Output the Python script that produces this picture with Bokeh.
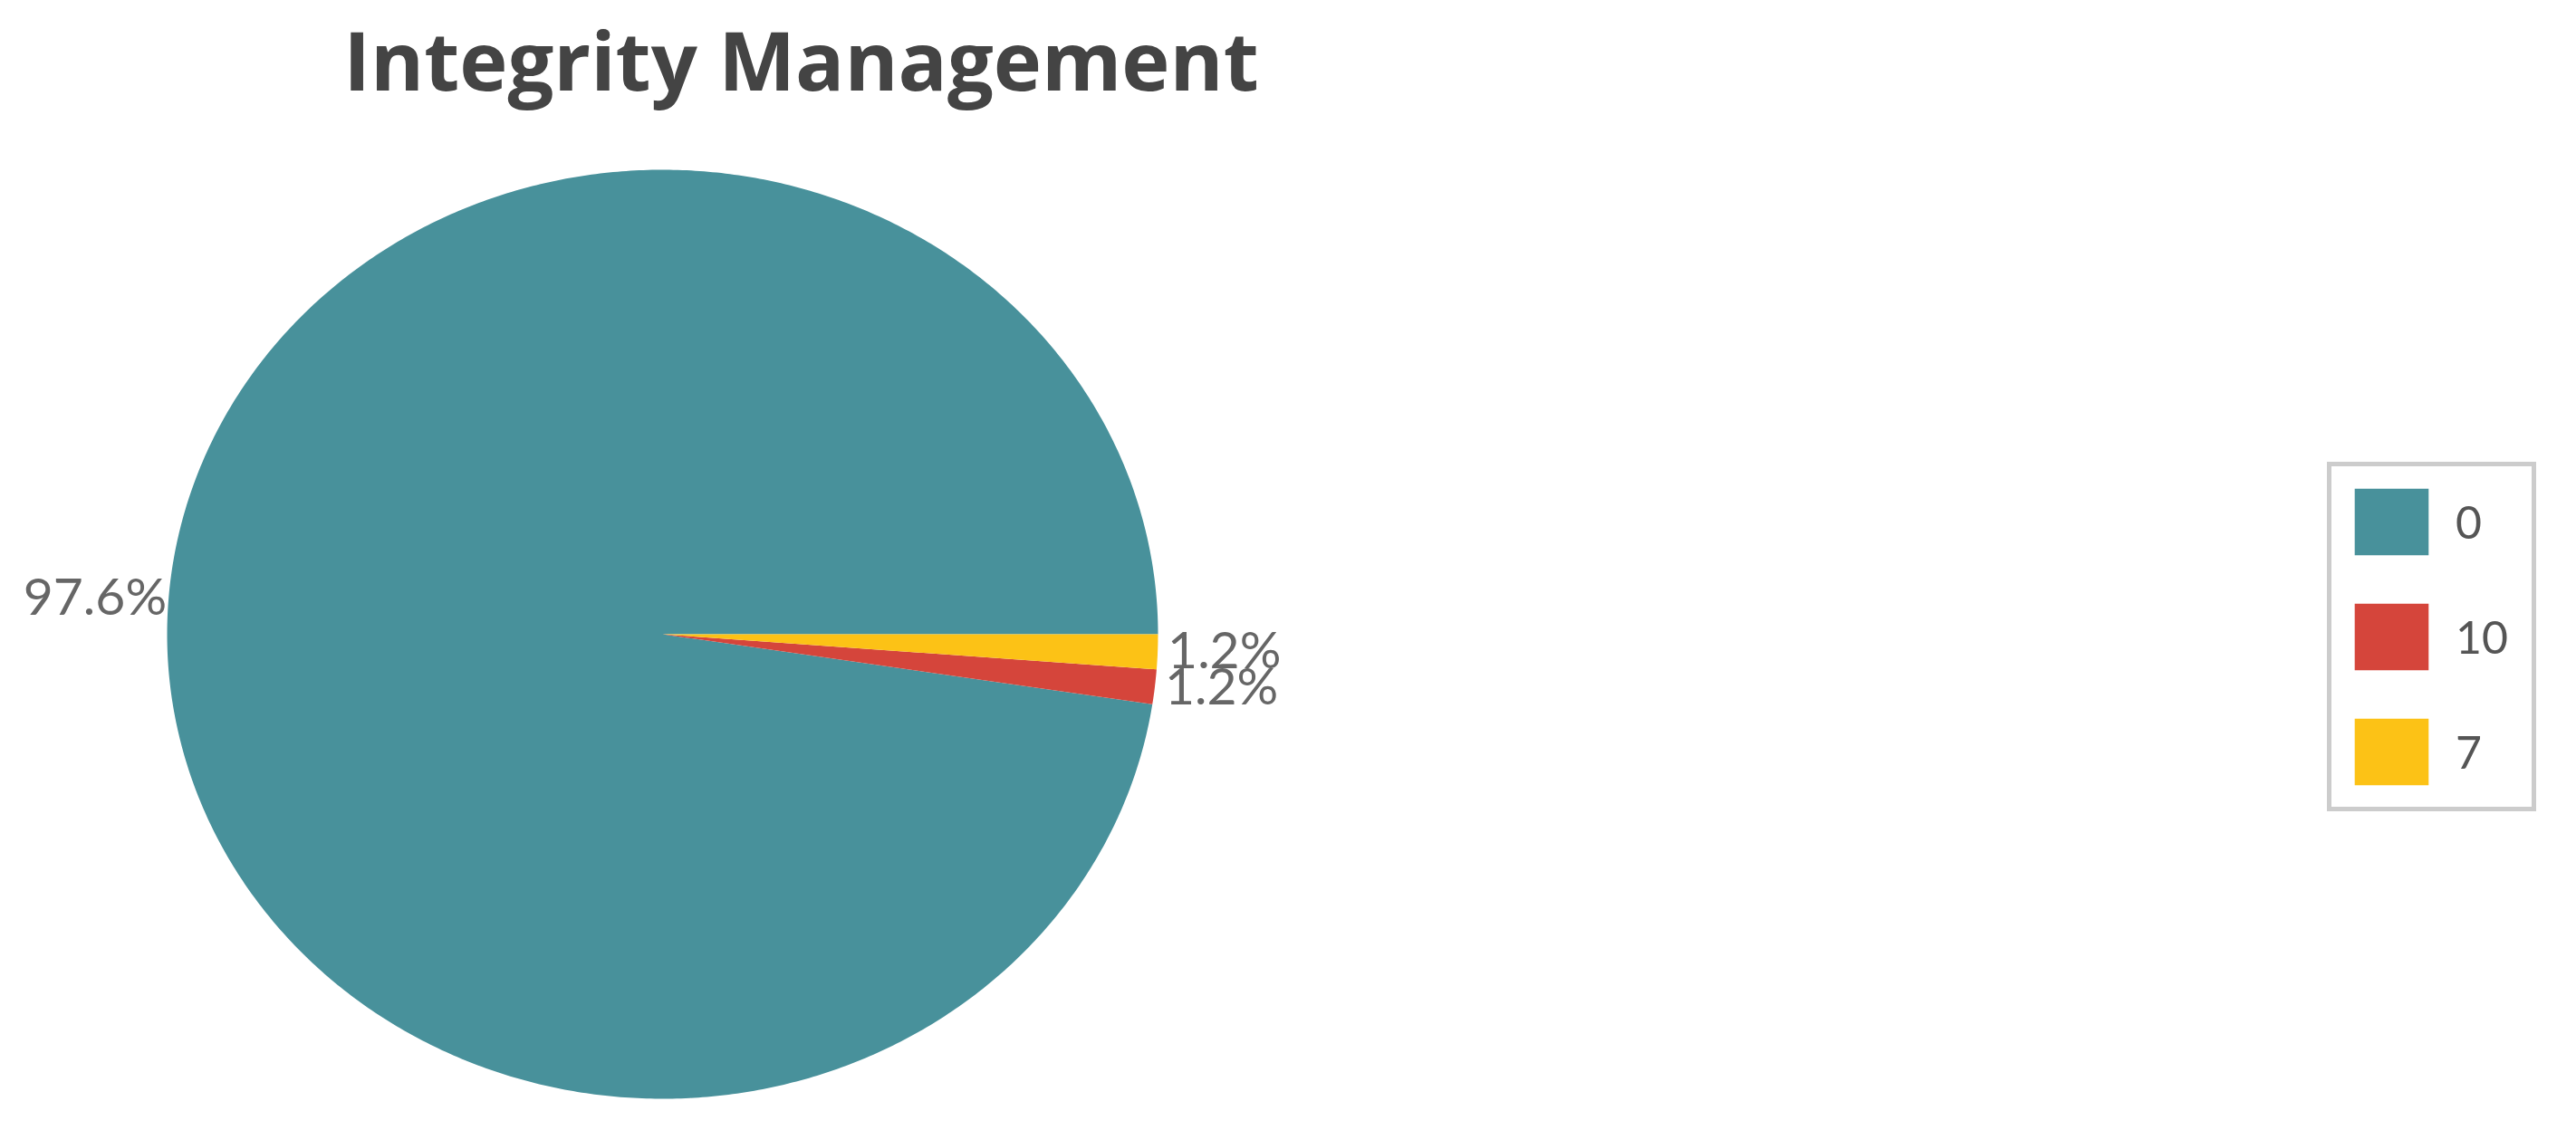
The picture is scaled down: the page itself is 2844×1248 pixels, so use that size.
import numpy as np
from bokeh.plotting import figure
from bokeh.models import Range1d, Label, ColumnDataSource
from bokeh.embed import file_html
from bokeh.resources import INLINE
from bokeh.core.properties import value

# ---- data ----
categories = ["0", "10", "7"]
counts = [81, 1, 1]
colors = ["#48919B", "#D5453B", "#FCC216"]
title_text = "Integrity Management"

# ---- layout (pixels) ----
W, H = 2828, 1232
cx_px, cy_px = 731, 700      # pie centre, from frame left / top
rx_px, ry_px = 547, 513      # pie radii (slightly stretched horizontally)

x0 = -cx_px / rx_px
x1 = (W - cx_px) / rx_px
y1 = cy_px / ry_px
y0 = -(H - cy_px) / ry_px

p = figure(width=W, height=H, x_range=Range1d(x0, x1), y_range=Range1d(y0, y1),
           output_backend="svg", toolbar_location=None, min_border=0,
           x_axis_location=None, y_axis_location=None)
p.grid.visible = False
p.outline_line_color = None
p.background_fill_color = "white"
p.border_fill_color = "white"

total = float(sum(counts))
fracs = np.array(counts) / total
ends = np.cumsum(fracs) * 2 * np.pi
starts = ends - fracs * 2 * np.pi

xs, ys = [], []
for s, e in zip(starts, ends):
    n = max(8, int((e - s) / (2 * np.pi) * 720))
    t = np.linspace(s, e, n)
    xs.append(np.concatenate([[0.0], np.cos(t)]).tolist())
    ys.append(np.concatenate([[0.0], np.sin(t)]).tolist())

src = ColumnDataSource(dict(xs=xs, ys=ys, cat=categories, color=colors))
p.patches("xs", "ys", fill_color="color", line_color=None, source=src,
          legend_field="cat")

# percentage labels
mids = (starts + ends) / 2
lx, ly, ltxt, lalign = [], [], [], []
for m, f in zip(mids, fracs):
    c, s = np.cos(m), np.sin(m)
    off = 11 if c >= 0 else 2
    lx.append(c * (rx_px + off) / rx_px)
    ly.append(s * (ry_px + off) / ry_px + 0.008)
    ltxt.append(f"{f*100:.1f}%")
    lalign.append("left" if c >= 0 else "right")
lsrc = ColumnDataSource(dict(x=lx, y=ly, text=ltxt, align=lalign))
p.text("x", "y", text="text", source=lsrc, text_align="align",
       text_baseline="middle", text_font=value("Lato"),
       text_font_size="57px", text_color="#666666")

# title
p.add_layout(Label(x=884, y=H - 64, x_units="screen", y_units="screen",
                   text=title_text, text_align="center", text_baseline="alphabetic",
                   text_font="Open Sans", text_font_style="bold",
                   text_font_size="90px", text_color="#444444"))

# legend
lg = p.legend[0]
lg.location = (2569, 336)
lg.margin = 0
lg.padding = 15
lg.spacing = 35
lg.glyph_width = 102
lg.glyph_height = 92
lg.label_height = 92
lg.label_width = 69
lg.label_standoff = 20
lg.label_text_font = "Lato"
lg.label_text_font_size = "50px"
lg.label_text_color = "#555555"
lg.label_text_baseline = "middle"
lg.border_line_color = "#9a9a9a"
lg.border_line_width = 5
lg.background_fill_color = "white"
lg.background_fill_alpha = 1.0

open("out.html", "w").write(file_html(p, INLINE))
